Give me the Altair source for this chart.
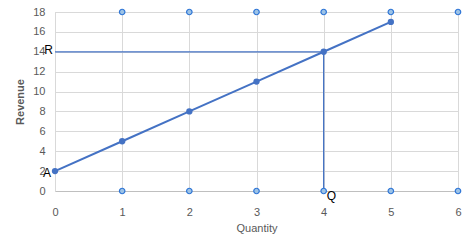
import altair as alt
import pandas as pd

qty = [0, 1, 2, 3, 4, 5]
revenue = [2, 5, 8, 11, 14, 17]
h_x = [0, 4]
h_y = [14, 14]
v_x = [4, 4]
v_y = [14, 0]
top_x = [1, 2, 3, 4, 5, 6]
top_y = [18, 18, 18, 18, 18, 18]
bot_x = [1, 2, 3, 4, 5, 6]
bot_y = [0, 0, 0, 0, 0, 0]
lab_text = ["R", "A", "Q"]
lab_x = [0, 0, 4]
lab_y = [14, 2, 0]
x_ticks = [0, 1, 2, 3, 4, 5, 6]
y_ticks = [0, 2, 4, 6, 8, 10, 12, 14, 16, 18]

BLUE = "#4472C4"
xs = alt.Scale(domain=[0, 6], nice=False)
ys = alt.Scale(domain=[0, 18], nice=False)

xax = alt.Axis(values=x_ticks, format="d", title="Quantity", grid=True, gridColor="#d9d9d9",
               domainColor="#bfbfbf", ticks=False, labelColor="#595959", labelFontSize=11,
               titleColor="#595959", titleFontSize=11, titleFontWeight="normal", labelFlush=False,
               labelFont="Liberation Sans", titleFont="Liberation Sans", labelPadding=15, titlePadding=5)
yax = alt.Axis(values=y_ticks, format="d", title="Revenue", grid=True, gridColor="#d9d9d9",
               domainColor="#d9d9d9", ticks=False, labelColor="#595959", labelFontSize=11,
               titleColor="#595959", titleFontSize=11, titleFontWeight="bold", labelFlush=False,
               labelFont="Liberation Sans", titleFont="Liberation Sans", labelPadding=10, titlePadding=7)

X = alt.X("x:Q", scale=xs, axis=xax)
Y = alt.Y("y:Q", scale=ys, axis=yax)

main = pd.DataFrame({"x": qty, "y": revenue})
hline = pd.DataFrame({"x": h_x, "y": h_y, "o": [0, 1]})
vline = pd.DataFrame({"x": v_x, "y": v_y, "o": [0, 1]})
edge = pd.DataFrame({"x": top_x + bot_x, "y": top_y + bot_y})
labs = pd.DataFrame({"t": lab_text, "x": lab_x, "y": lab_y})

h = alt.Chart(hline).mark_line(color=BLUE, strokeWidth=1.3).encode(x=X, y=Y, order="o:Q")
v = alt.Chart(vline).mark_line(color=BLUE, strokeWidth=1.3).encode(x=X, y=Y, order="o:Q")
base_line = alt.Chart(main).mark_line(color=BLUE, strokeWidth=2).encode(x=X, y=Y)
base_pts = alt.Chart(main).mark_point(filled=True, color=BLUE, size=40, opacity=1).encode(x=X, y=Y)
e = alt.Chart(edge).mark_point(filled=True, fill="#9dc3e6", stroke="#2e75d6", strokeWidth=1.2,
                               size=30, opacity=1).encode(x=X, y=Y)

lab_r = alt.Chart(labs[labs.t == "R"]).mark_text(align="right", baseline="middle", dx=-2, dy=-2,
                                                  fontSize=12, color="black", font="Liberation Sans").encode(
    x=X, y=Y, text="t:N")
lab_a = alt.Chart(labs[labs.t == "A"]).mark_text(align="right", baseline="middle", dx=-4, dy=2,
                                                  fontSize=12, color="black", font="Liberation Sans").encode(
    x=X, y=Y, text="t:N")
lab_q = alt.Chart(labs[labs.t == "Q"]).mark_text(align="left", baseline="middle", dx=3, dy=5,
                                                  fontSize=12, color="black", font="Liberation Sans").encode(
    x=X, y=Y, text="t:N")

chart = alt.layer(h, v, base_line, base_pts, e, lab_r, lab_a, lab_q).properties(
    width=403, height=179, autosize=alt.AutoSizeParams(type="none"),
    padding={"left": 55, "top": 12, "right": 10, "bottom": 51}
).configure_view(stroke=None).configure(background="white")

chart.save("out.html", embed_options={"renderer": "svg", "actions": False})
